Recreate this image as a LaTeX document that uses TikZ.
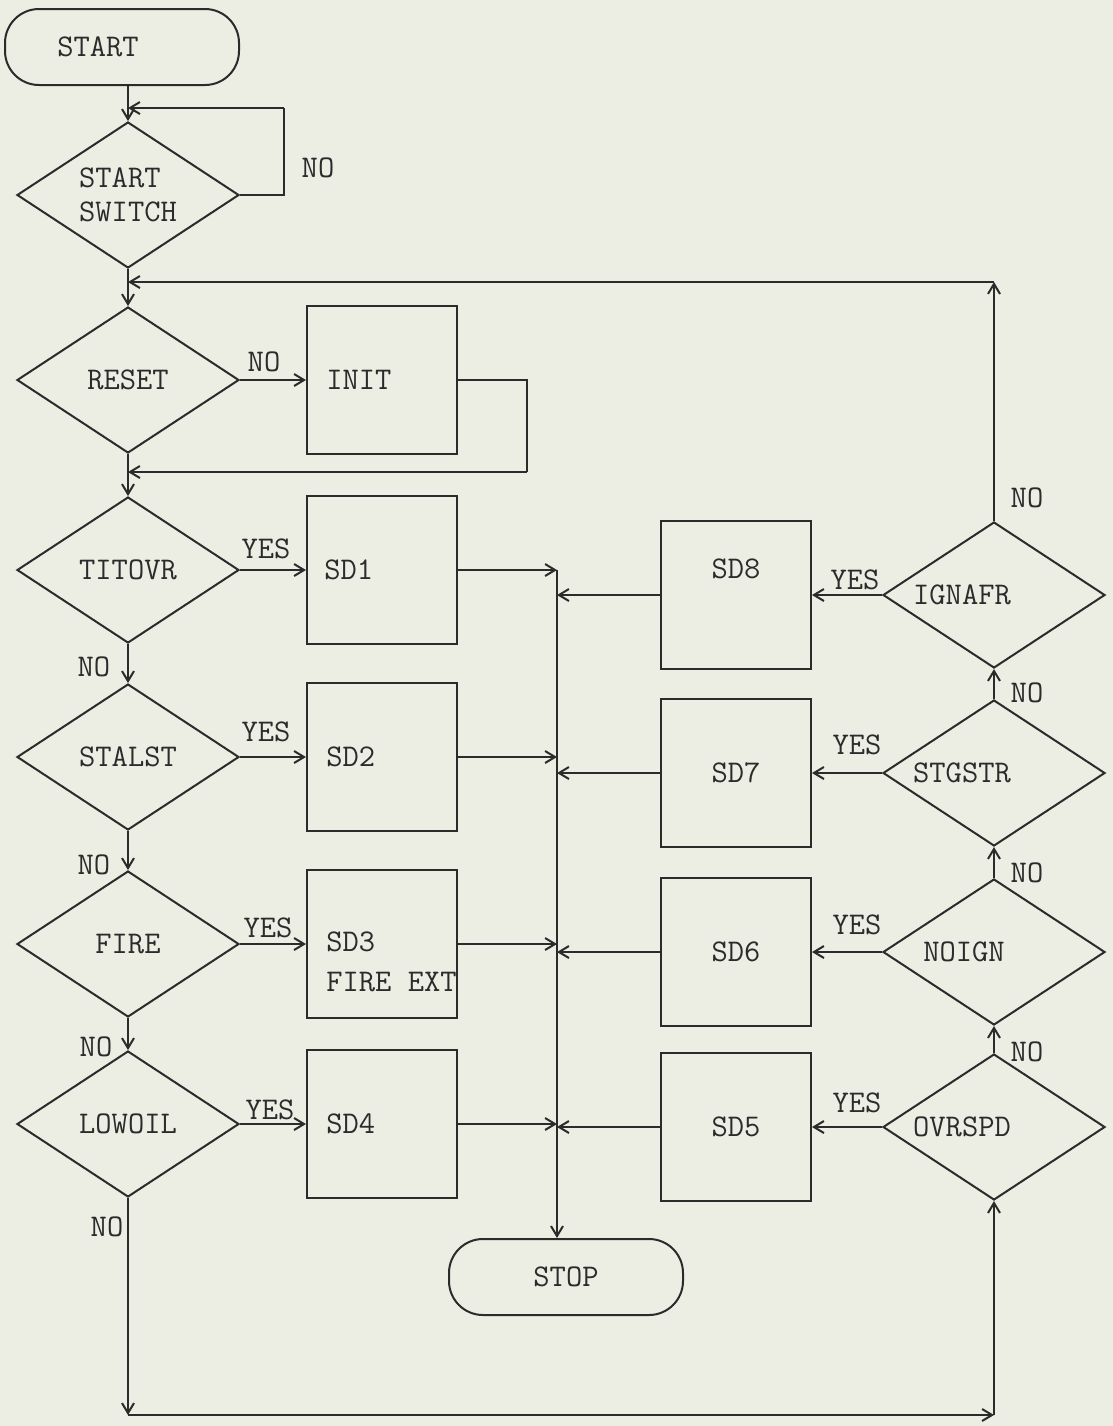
\documentclass[tikz,border=0pt]{standalone}
\usepackage{fontspec}
\usetikzlibrary{shapes.geometric, arrows.meta, positioning}
\definecolor{vink}{HTML}{2B2B2B}
\definecolor{vpaper}{HTML}{ECEEE3}
\tikzset{
  term/.style={rectangle, rounded corners=17pt, draw=vink, line width=1pt,
               minimum width=117pt, minimum height=38pt},
  dec/.style={diamond, draw=vink, line width=1pt, shape aspect=1.5, inner sep=0pt,
              minimum width=111pt, minimum height=73pt, align=left},
  proc/.style={rectangle, draw=vink, line width=1pt, minimum width=75pt,
               minimum height=74pt, align=left},
  tag/.style={inner sep=1pt, align=left},
  flow/.style={-{Straight Barb[length=5pt, width=6pt]}, draw=vink, line width=1pt},
  link/.style={draw=vink, line width=1pt}
}

\begin{document}
\begin{tikzpicture}[x=0.5pt, y=-0.5pt, font=\ttfamily\fontsize{15.8}{17}\selectfont, text=vink]
  \fill[vpaper] (0,0) rectangle (1113,1426);
  \useasboundingbox (0,0) rectangle (1113,1426);

  % left column
  \node[term, label={[tag, anchor=west, xshift=25.5pt]west:START}] (start) at (122,47) {};
  \node[dec] (sw) at (128,195) {START\\SWITCH};
  \node[dec] (reset) at (128,380) {RESET};
  \node[dec] (titovr) at (128,570) {TITOVR};
  \node[dec] (stalst) at (128,757) {STALST};
  \node[dec] (fire) at (128,944) {FIRE};
  \node[dec] (lowoil) at (128,1124) {LOWOIL};

  \node[proc, right=33pt of reset, label={[tag, anchor=west, xshift=9pt]west:INIT}] (init) {};
  \node[proc, right=33pt of titovr, label={[tag, anchor=west, xshift=8pt]west:SD1}] (sd1) {};
  \node[proc, right=33pt of stalst, label={[tag, anchor=west, xshift=9pt]west:SD2}] (sd2) {};
  \node[proc, right=33pt of fire,
        label={[tag, anchor=west, xshift=9pt, yshift=-9pt]west:SD3\\[3pt]FIRE EXT}] (sd3) {};
  \node[proc, right=33pt of lowoil, label={[tag, anchor=west, xshift=9pt]west:SD4}] (sd4) {};

  % right column
  \node[dec, label={[tag, xshift=-16pt]center:IGNAFR}] (ignafr) at (994,595) {};
  \node[dec, label={[tag, xshift=-16pt]center:STGSTR}] (stgstr) at (994,773) {};
  \node[dec, label={[tag, xshift=-15pt]center:NOIGN}] (noign) at (994,952) {};
  \node[dec, label={[tag, xshift=-16pt]center:OVRSPD}] (ovrspd) at (994,1127) {};

  \node[proc, left=35pt of ignafr, label={[tag, yshift=13pt]center:SD8}] (sd8) {};
  \node[proc, left=35pt of stgstr] (sd7) {SD7};
  \node[proc, left=35pt of noign] (sd6) {SD6};
  \node[proc, left=35pt of ovrspd] (sd5) {SD5};

  \node[term] (stop) at (566,1277) {STOP};

  % labels
  \node[tag] (no-sw) at (318,168) {NO};
  \node[tag] (no-reset) at (264,362) {NO};
  \node[tag] (yes-titovr) at (266,549) {YES};
  \node[tag] (no-titovr) at (94,667) {NO};
  \node[tag] (yes-stalst) at (266,732) {YES};
  \node[tag] (no-stalst) at (94,865) {NO};
  \node[tag] (yes-fire) at (268,928) {YES};
  \node[tag] (no-fire) at (96,1047) {NO};
  \node[tag] (yes-lowoil) at (270,1110) {YES};
  \node[tag] (no-lowoil) at (107,1227) {NO};
  \node[tag] (no-ignafr) at (1027,498) {NO};
  \node[tag] (yes-ignafr) at (855,580) {YES};
  \node[tag] (no-stgstr) at (1027,693) {NO};
  \node[tag] (yes-stgstr) at (857,745) {YES};
  \node[tag] (no-noign) at (1027,873) {NO};
  \node[tag] (yes-noign) at (857,925) {YES};
  \node[tag] (no-ovrspd) at (1027,1052) {NO};
  \node[tag] (yes-ovrspd) at (857,1103) {YES};

  % bends
  \coordinate (swloop) at (284,108);
  \coordinate (initloop) at (527,472);
  \coordinate (toploop) at (994,282);
  \coordinate (bus) at (557,570);
  \coordinate (botl) at (128,1415);
  \coordinate (botr) at (994,1415);

  % connectors
  \draw[flow] (start.south -| sw.north) -- (sw.north);
  \draw[link] (sw.east) -| (swloop);
  \draw[flow] (swloop) -- (swloop -| sw.north);
  \draw[flow] (sw.south) -- (reset.north);
  \draw[flow] (reset.east) -- (init.west);
  \draw[link] (init.east) -| (initloop);
  \draw[flow] (initloop) -- (initloop -| reset.south);
  \draw[flow] (reset.south) -- (titovr.north);
  \draw[flow] (titovr.south) -- (stalst.north);
  \draw[flow] (stalst.south) -- (fire.north);
  \draw[flow] (fire.south) -- (lowoil.north);
  \draw[flow] (titovr.east) -- (sd1.west);
  \draw[flow] (stalst.east) -- (sd2.west);
  \draw[flow] (fire.east) -- (sd3.west);
  \draw[flow] (lowoil.east) -- (sd4.west);

  \draw[flow] (sd1.east) -- (bus);
  \draw[flow] (bus) -- (bus |- stop.north);
  \draw[flow] (sd2.east) -- (sd2.east -| bus);
  \draw[flow] (sd3.east) -- (sd3.east -| bus);
  \draw[flow] (sd4.east) -- (sd4.east -| bus);
  \draw[flow] (sd8.west) -- (sd8.west -| bus);
  \draw[flow] (sd7.west) -- (sd7.west -| bus);
  \draw[flow] (sd6.west) -- (sd6.west -| bus);
  \draw[flow] (sd5.west) -- (sd5.west -| bus);

  \draw[flow] (ignafr.west) -- (sd8.east);
  \draw[flow] (stgstr.west) -- (sd7.east);
  \draw[flow] (noign.west) -- (sd6.east);
  \draw[flow] (ovrspd.west) -- (sd5.east);
  \draw[flow] (stgstr.north) -- (ignafr.south);
  \draw[flow] (noign.north) -- (stgstr.south);
  \draw[flow] (ovrspd.north) -- (noign.south);
  \draw[flow] (ignafr.north) -- (toploop);
  \draw[flow] (toploop) -- (toploop -| sw.south);

  \draw[flow] (lowoil.south) -- (botl);
  \draw[flow] (botl) -- (botr);
  \draw[flow] (botr) -- (ovrspd.south);
\end{tikzpicture}
\end{document}
